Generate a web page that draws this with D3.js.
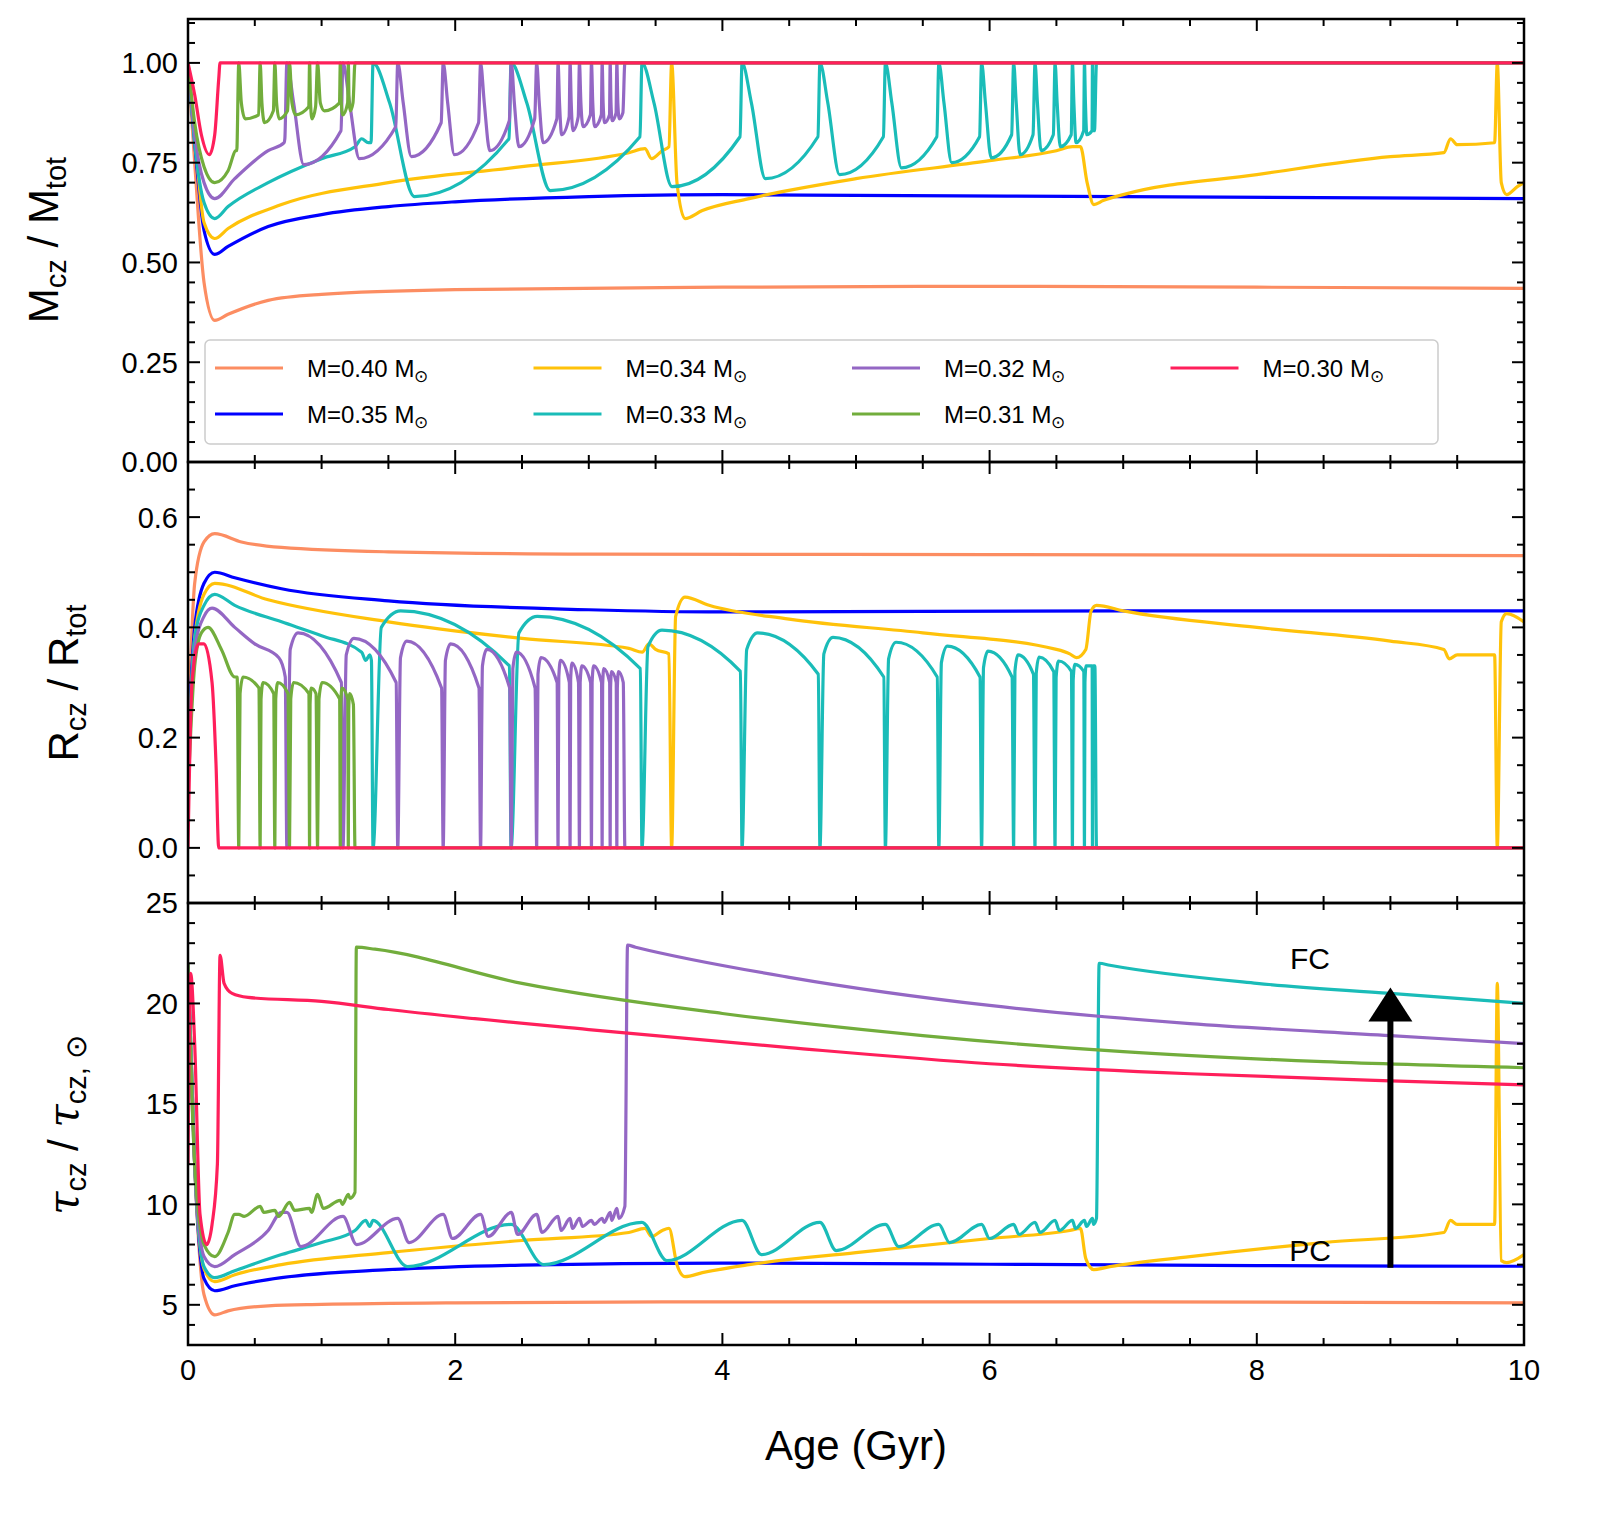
<!DOCTYPE html>
<html><head><meta charset="utf-8">
<script src="https://cdn.jsdelivr.net/npm/d3@7"></script>
<style>body{margin:0;background:#fff}svg{font-family:"Liberation Sans",Arial,sans-serif}</style>
</head><body><svg id="c" width="1600" height="1523"></svg>
<script>
// ---- data ----
const labels = ["0.40","0.35","0.34","0.33","0.32","0.31","0.30"];
const colors = ["#fc8d62","#0000ff","#ffc20a","#1abcb8","#9467c4","#72ad3c","#ff1f5b"];
const xTicks = [0,2,4,6,8,10];
const y1Ticks = [0,0.25,0.5,0.75,1.0];
const y2Ticks = [0,0.2,0.4,0.6];
const y3Ticks = [5,10,15,20,25];

// smooth tracks [age, value]
const mOrange = [[0,1],[0.05,0.75],[0.12,0.45],[0.2,0.355],[0.3,0.37],[0.6,0.405],[1,0.42],[2,0.432],[4,0.438],[6,0.44],[8,0.438],[10,0.435]];
const mBlue = [[0,1],[0.05,0.8],[0.12,0.58],[0.2,0.52],[0.3,0.54],[0.6,0.59],[1,0.62],[1.5,0.64],[2,0.652],[3,0.665],[4,0.67],[5,0.668],[7,0.665],[10,0.66]];
const mYellow = [[0,1],[0.05,0.82],[0.12,0.6],[0.2,0.56],[0.3,0.585],[0.7,0.645],[1.5,0.7],[2.5,0.74],[3.3,0.775],[3.42,0.785],[3.47,0.76],[3.55,0.78],[3.6,0.79],[3.62,1.0],[3.66,0.7],[3.72,0.61],[3.85,0.63],[4.2,0.66],[5,0.71],[6,0.755],[6.5,0.78],[6.62,0.79],[6.68,0.79],[6.73,0.7],[6.78,0.645],[6.85,0.655],[7,0.67],[8,0.72],[9,0.765],[9.4,0.775],[9.45,0.81],[9.5,0.795],[9.78,0.8],[9.8,1.0],[9.83,0.7],[9.87,0.67],[9.95,0.69],[10,0.7]];
const mPink = [[0,1],[0.05,0.92],[0.1,0.82],[0.16,0.77],[0.2,0.82],[0.23,0.96],[0.24,1],[10,1]];
const mTealStart = [[0,1],[0.05,0.8],[0.12,0.65],[0.2,0.61],[0.3,0.64],[0.6,0.7],[1,0.76],[1.25,0.79],[1.3,0.81],[1.35,0.8]];
const mPurpleStart = [[0,1],[0.05,0.82],[0.12,0.7],[0.2,0.66],[0.35,0.71],[0.6,0.78],[0.72,0.8]];
const mGreenStart = [[0,1],[0.05,0.85],[0.12,0.74],[0.2,0.70],[0.3,0.73],[0.36,0.78]];

const rOrange = [[0,0.2],[0.05,0.48],[0.12,0.555],[0.2,0.57],[0.4,0.555],[0.7,0.545],[1.5,0.537],[3,0.533],[6,0.532],[10,0.53]];
const rBlue = [[0,0.18],[0.05,0.4],[0.12,0.48],[0.2,0.5],[0.35,0.49],[0.7,0.47],[1.5,0.448],[3,0.432],[4,0.428],[7,0.43],[10,0.43]];
const rYellow = [[0,0.15],[0.05,0.38],[0.12,0.46],[0.2,0.48],[0.6,0.45],[1.5,0.41],[2.5,0.38],[3.3,0.362],[3.4,0.355],[3.45,0.37],[3.5,0.36],[3.6,0.352],[3.62,0.0],[3.65,0.42],[3.72,0.455],[3.9,0.44],[4.5,0.415],[5.5,0.39],[6.5,0.36],[6.6,0.352],[6.65,0.345],[6.72,0.36],[6.76,0.43],[6.8,0.44],[7,0.43],[8,0.4],[9,0.375],[9.4,0.36],[9.44,0.343],[9.5,0.35],[9.78,0.35],[9.8,0.0],[9.83,0.41],[9.87,0.425],[10,0.41]];
const rPink = [[0,0],[0.03,0.3],[0.08,0.37],[0.12,0.37],[0.18,0.3],[0.21,0.15],[0.23,0],[10,0]];
const rTealStart = [[0,0.15],[0.05,0.38],[0.12,0.44],[0.2,0.46],[0.35,0.44],[0.7,0.41],[1.0,0.385],[1.3,0.355],[1.33,0.34],[1.36,0.35]];
const rPurpleStart = [[0,0.12],[0.05,0.36],[0.12,0.42],[0.18,0.435],[0.35,0.4],[0.5,0.37],[0.68,0.345]];
const rGreenStart = [[0,0.1],[0.05,0.33],[0.1,0.39],[0.15,0.40],[0.25,0.36],[0.35,0.31]];

const tOrange = [[0,22],[0.05,12],[0.12,5.5],[0.2,4.5],[0.3,4.7],[0.6,4.95],[1,5.02],[2,5.1],[4,5.15],[7,5.15],[10,5.1]];
const tBlue = [[0,22],[0.05,12],[0.12,6.3],[0.2,5.7],[0.35,5.95],[0.7,6.35],[1.5,6.75],[2.5,6.98],[4,7.08],[6,7.02],[8,6.95],[10,6.92]];
const tYellow = [[0,22],[0.05,12],[0.12,6.8],[0.2,6.15],[0.35,6.5],[0.7,7.0],[1.5,7.6],[2.5,8.2],[3.3,8.6],[3.42,8.8],[3.47,8.4],[3.55,8.7],[3.6,8.8],[3.66,7.0],[3.72,6.4],[3.85,6.6],[4.2,7.0],[5,7.6],[6,8.3],[6.6,8.7],[6.68,8.8],[6.72,7.3],[6.78,6.75],[6.9,6.9],[7.5,7.4],[8.5,8.1],[9.4,8.6],[9.45,9.2],[9.5,9.0],[9.78,9.0],[9.8,21.0],[9.83,7.2],[9.87,7.1],[10,7.5]];
const tPink = [[0,12],[0.02,21.5],[0.05,18],[0.09,9.5],[0.14,8.0],[0.18,9.0],[0.22,12],[0.24,22.4],[0.27,21],[0.33,20.5],[0.45,20.3],[1,20.1],[1.5,19.7],[3,18.7],[4.5,17.8],[6,17.0],[7.5,16.5],[9,16.15],[10,15.95]];
const tTealStart = [[0,22],[0.05,12],[0.12,6.9],[0.2,6.35],[0.35,6.7],[0.7,7.5],[1.0,8.1],[1.25,8.7],[1.33,9.2],[1.36,8.9]];
const tPurpleStart = [[0,22],[0.05,12],[0.12,7.4],[0.2,6.9],[0.35,7.5],[0.6,8.7],[0.70,9.6]];
const tGreenStart = [[0,22],[0.05,12],[0.12,8.0],[0.2,7.4],[0.3,8.6],[0.35,9.5]];
const tGreenTail = [[1.26,22.8],[1.4,22.7],[2.5,21.0],[4,19.5],[5.5,18.4],[7,17.6],[8.5,17.1],[10,16.8]];
const tPurpleTail = [[3.29,22.9],[3.35,22.8],[4.5,21.3],[6,19.9],[7.5,19.0],[9,18.4],[10,18.0]];
const tTealTail = [[6.82,22.0],[6.9,21.9],[8,21.0],[9,20.5],[10,20.0]];

// pulse events (age of each convective-boundary jump) and values around them
const tealPulse = [1.385,2.418,3.398,4.147,4.73,5.22,5.62,5.94,6.18,6.34,6.49,6.62,6.71,6.77,6.8];
const tealMPre = [0.80,0.81,0.815,0.815,0.815,0.815,0.815,0.815,0.82,0.82,0.82,0.82,0.83,0.83,0.83];
const tealMTrough = [0.665,0.68,0.69,0.71,0.72,0.737,0.75,0.762,0.77,0.78,0.79,0.8,0.82,0.83,1.0];
const tealRPre = [0.34,0.33,0.325,0.32,0.315,0.31,0.31,0.31,0.31,0.315,0.32,0.32,0.32,0.33,0.33];
const tealRPeak = [0.43,0.42,0.395,0.39,0.382,0.373,0.366,0.357,0.35,0.346,0.339,0.333,0.33,0.33,0.0];
const tealTPre = [9.2,9.0,9.1,9.2,9.1,9.0,9.0,9.0,9.0,9.1,9.2,9.2,9.2,9.3,9.3];
const tealTTrough = [6.9,7.0,7.2,7.5,7.7,7.9,8.1,8.3,8.5,8.6,8.7,8.8,8.9,9.0,9.3];

const purplePulse = [0.74,1.16,1.57,1.91,2.19,2.42,2.61,2.77,2.86,2.93,3.02,3.1,3.16,3.21,3.27];
const purpleMPre = [0.81,0.83,0.84,0.85,0.85,0.855,0.86,0.86,0.865,0.865,0.87,0.87,0.87,0.875,0.875];
const purpleMTrough = [0.745,0.76,0.765,0.77,0.78,0.79,0.8,0.82,0.83,0.84,0.84,0.85,0.855,0.86,1.0];
const purpleRPre = [0.31,0.3,0.3,0.29,0.29,0.29,0.29,0.3,0.3,0.3,0.3,0.3,0.3,0.3,0.3];
const purpleRPeak = [0.39,0.38,0.375,0.37,0.36,0.355,0.345,0.34,0.335,0.33,0.33,0.325,0.32,0.32,0.0];
const purpleTPre = [9.6,9.4,9.3,9.5,9.5,9.6,9.5,9.4,9.3,9.3,9.2,9.3,9.6,9.8,9.9];
const purpleTTrough = [7.9,8.0,8.1,8.3,8.4,8.5,8.6,8.7,8.8,8.9,9.0,9.1,9.2,9.3,9.9];

const greenPulse = [0.38,0.54,0.65,0.76,0.91,0.97,1.14,1.2,1.25];
const greenMPre = [0.78,0.87,0.88,0.88,0.89,0.89,0.9,0.9,0.9];
const greenMTrough = [0.86,0.85,0.86,0.87,0.86,0.88,0.87,0.88,1.0];
const greenRPre = [0.31,0.29,0.28,0.28,0.28,0.28,0.27,0.27,0.26];
const greenRPeak = [0.31,0.30,0.30,0.30,0.29,0.30,0.29,0.28,0.0];
const greenTPre = [9.5,9.9,9.7,10.1,9.8,10.5,10.2,10.5,10.6];
const greenTTrough = [9.4,9.6,9.4,9.7,9.6,9.8,10.0,10.3,10.6];

// ---- build tracks from read values (offsets scale with the gap to the next pulse) ----
function gapAt(times,i){ return i<times.length-1 ? times[i+1]-times[i] : 0.2; }
function mTrack(start, times, pre, trough){
  const p = start.slice();
  times.forEach((t,i)=>{
    const g = gapAt(times,i);
    p.push([t-Math.min(0.015,g*0.1), pre[i]]); p.push([t,1.0]);
    if(i < times.length-1){ p.push([t+g*0.12,0.9]); p.push([t+g*0.3,trough[i]]); }
  });
  p.push([10,1.0]); return p;
}
function rTrack(start, times, pre, peak){
  const p = start.slice();
  times.forEach((t,i)=>{
    const g = gapAt(times,i);
    p.push([t-Math.min(0.012,g*0.08), pre[i]]); p.push([t,0]);
    if(i < times.length-1){ p.push([t+g*0.06,peak[i]-0.03]); p.push([t+g*0.2,peak[i]]); }
  });
  p.push([10,0]); return p;
}
function tTrack(start, times, pre, trough, tail){
  const p = start.slice();
  times.forEach((t,i)=>{
    const g = gapAt(times,i);
    p.push([t, pre[i]]);
    if(i < times.length-1){ p.push([t+g*0.25,trough[i]]); }
  });
  return p.concat(tail);
}
const panel1 = [mOrange, mBlue, mYellow, mTrack(mTealStart,tealPulse,tealMPre,tealMTrough),
  mTrack(mPurpleStart,purplePulse,purpleMPre,purpleMTrough), mTrack(mGreenStart,greenPulse,greenMPre,greenMTrough), mPink];
const panel2 = [rOrange, rBlue, rYellow, rTrack(rTealStart,tealPulse,tealRPre,tealRPeak),
  rTrack(rPurpleStart,purplePulse,purpleRPre,purpleRPeak), rTrack(rGreenStart,greenPulse,greenRPre,greenRPeak), rPink];
const panel3 = [tOrange, tBlue, tYellow, tTrack(tTealStart,tealPulse,tealTPre,tealTTrough,tTealTail),
  tTrack(tPurpleStart,purplePulse,purpleTPre,purpleTTrough,tPurpleTail), tTrack(tGreenStart,greenPulse,greenTPre,greenTTrough,tGreenTail), tPink];

// ---- drawing ----
const svg = d3.select("#c");
const L=188, R=1524;
const x = d3.scaleLinear().domain([0,10]).range([L,R]);
const panels = [
  {data:panel1, y:d3.scaleLinear().domain([0,1.11]).range([462,19]), ticks:y1Ticks, minor:d3.range(0,1.11,0.05), fmt:d3.format(".2f")},
  {data:panel2, y:d3.scaleLinear().domain([-0.1,0.7]).range([903,462]), ticks:y2Ticks, minor:d3.range(-0.1,0.71,0.05), fmt:d3.format(".1f")},
  {data:panel3, y:d3.scaleLinear().domain([3,25]).range([1345,903]), ticks:y3Ticks, minor:d3.range(3,25.1,1), fmt:d3.format("d")}
];
const xMinor = d3.range(0,10.01,0.5);
panels.forEach((p,pi)=>{
  const [yb,yt] = p.y.range();
  const id="clip"+pi;
  svg.append("clipPath").attr("id",id).append("rect").attr("x",L).attr("y",yt).attr("width",R-L).attr("height",yb-yt);
  const g = svg.append("g").attr("clip-path",`url(#${id})`);
  const line = d3.line().curve(d3.curveMonotoneX).x(d=>x(d[0])).y(d=>p.y(d[1]));
  p.data.forEach((d,i)=>{
    const dd = d.slice().sort((a,b)=>a[0]-b[0]);
    g.append("path").attr("d",line(dd)).attr("fill","none").attr("stroke",colors[i]).attr("stroke-width",3.2).attr("stroke-linejoin","round");
  });
  const tk = svg.append("g").attr("stroke","#000").attr("stroke-width",2);
  p.minor.forEach(v=>{ const yy=p.y(v); const maj=p.ticks.some(t=>Math.abs(t-v)<1e-6); const len=maj?12:7;
    tk.append("line").attr("x1",L).attr("x2",L+len).attr("y1",yy).attr("y2",yy);
    tk.append("line").attr("x1",R).attr("x2",R-len).attr("y1",yy).attr("y2",yy);});
  xMinor.forEach(v=>{ const xx=x(v); const maj=xTicks.includes(v); const len=maj?12:7;
    tk.append("line").attr("x1",xx).attr("x2",xx).attr("y1",yb).attr("y2",yb-len);
    tk.append("line").attr("x1",xx).attr("x2",xx).attr("y1",yt).attr("y2",yt+len);});
  p.ticks.forEach(v=>{
    svg.append("text").attr("x",L-10).attr("y",p.y(v)).attr("dy","0.36em").attr("text-anchor","end")
      .attr("font-size",29).text(p.fmt(v));
  });
  svg.append("rect").attr("x",L).attr("y",yt).attr("width",R-L).attr("height",yb-yt).attr("fill","none").attr("stroke","#000").attr("stroke-width",2.5);
});
xTicks.forEach(v=>svg.append("text").attr("x",x(v)).attr("y",1380).attr("text-anchor","middle").attr("font-size",29).text(v));
svg.append("text").attr("x",856).attr("y",1460).attr("text-anchor","middle").attr("font-size",42).text("Age (Gyr)");

const yl1 = svg.append("text").attr("transform","translate(58,240) rotate(-90)").attr("text-anchor","middle").attr("font-size",42);
yl1.append("tspan").text("M"); yl1.append("tspan").attr("font-size",29).attr("dy",8).text("cz");
yl1.append("tspan").attr("dy",-8).text(" / M"); yl1.append("tspan").attr("font-size",29).attr("dy",8).text("tot");
const yl2 = svg.append("text").attr("transform","translate(78,683) rotate(-90)").attr("text-anchor","middle").attr("font-size",42);
yl2.append("tspan").text("R"); yl2.append("tspan").attr("font-size",29).attr("dy",8).text("cz");
yl2.append("tspan").attr("dy",-8).text(" / R"); yl2.append("tspan").attr("font-size",29).attr("dy",8).text("tot");
const yl3 = svg.append("text").attr("transform","translate(78,1125) rotate(-90)").attr("text-anchor","middle").attr("font-size",42);
yl3.append("tspan").attr("font-family","DejaVu Serif").attr("font-style","italic").text("τ");
yl3.append("tspan").attr("font-size",29).attr("dy",8).text("cz");
yl3.append("tspan").attr("dy",-8).text(" / ");
yl3.append("tspan").attr("font-family","DejaVu Serif").attr("font-style","italic").text("τ");
yl3.append("tspan").attr("font-size",29).attr("dy",8).text("cz, ⊙");

// legend
svg.append("rect").attr("x",205).attr("y",340).attr("width",1233).attr("height",104).attr("rx",5)
  .attr("fill","#fff").attr("stroke","#ccc").attr("stroke-width",1.5);
const legOrder = [[0,0,0],[1,0,1],[2,1,0],[3,1,1],[4,2,0],[5,2,1],[6,3,0]];
legOrder.forEach(([i,c,r])=>{
  const lx = 215 + c*318.5, ly = 368 + r*46;
  svg.append("line").attr("x1",lx).attr("x2",lx+68).attr("y1",ly).attr("y2",ly).attr("stroke",colors[i]).attr("stroke-width",3);
  const t = svg.append("text").attr("x",lx+92).attr("y",ly).attr("dy","0.36em").attr("font-size",24);
  t.append("tspan").text(`M=${labels[i]} M`);
  t.append("tspan").attr("font-size",17).attr("dy",5).text("⊙");
});

// FC / PC annotation and arrow
svg.append("text").attr("x",1310).attr("y",958).attr("dy","0.36em").attr("text-anchor","middle").attr("font-size",30).text("FC");
svg.append("text").attr("x",1310).attr("y",1250).attr("dy","0.36em").attr("text-anchor","middle").attr("font-size",30).text("PC");
const ax = x(9), y3 = panels[2].y;
svg.append("line").attr("x1",ax).attr("x2",ax).attr("y1",y3(6.85)).attr("y2",y3(19.3)).attr("stroke","#000").attr("stroke-width",6);
svg.append("path").attr("d",`M${ax-22},${y3(19.1)} L${ax+22},${y3(19.1)} L${ax},${y3(20.8)} Z`).attr("fill","#000");
</script></body></html>
